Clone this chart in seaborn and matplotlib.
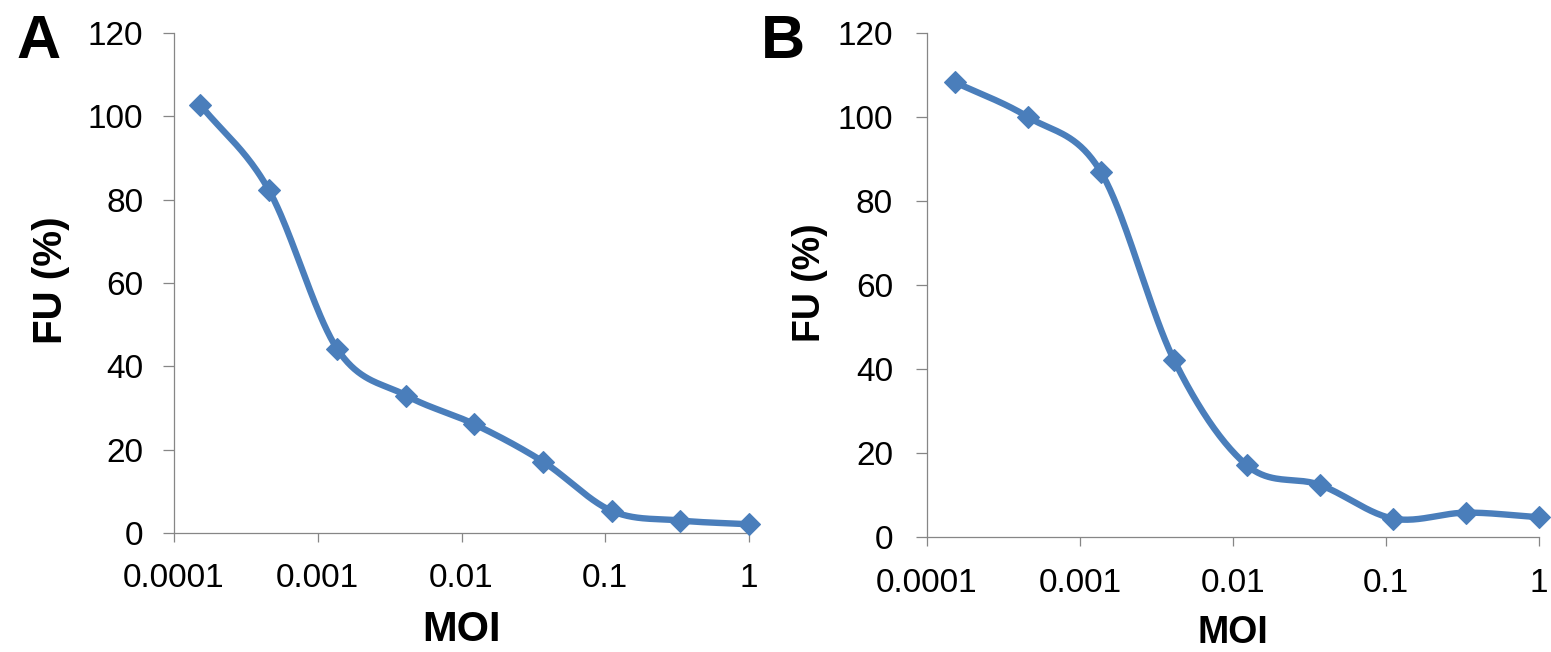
import numpy as np
import pandas as pd
import matplotlib
matplotlib.use("Agg")
import matplotlib.pyplot as plt
import seaborn as sns

# Three-fold dilution series of MOI
moi = [0.000152, 0.000457, 0.00137, 0.00412, 0.0123, 0.037, 0.111, 0.333, 1.0]
# Relative fluorescence units (%) for each panel
fu_a = [102.8, 82.3, 44.1, 33.0, 26.1, 17.1, 5.3, 3.0, 2.1]
fu_b = [108.3, 100.0, 86.9, 42.1, 17.1, 12.4, 4.4, 5.8, 4.7]

x_ticks = [0.0001, 0.001, 0.01, 0.1, 1]
x_tick_labels = ["0.0001", "0.001", "0.01", "0.1", "1"]
y_ticks = [0, 20, 40, 60, 80, 100, 120]
panel_letters = ["A", "B"]

sns.set_style("ticks")
plt.rcParams["font.family"] = ["Liberation Sans", "DejaVu Sans"]
plt.rcParams["text.color"] = "black"
plt.rcParams["axes.labelcolor"] = "black"

LINE = "#4a7ebb"
AXIS = "#868686"


def smooth_curve(xs, ys, n=40):
    """Catmull-Rom spline through the points in (log10 x, y) space."""
    u = np.log10(np.asarray(xs, float))
    v = np.asarray(ys, float)
    pu = np.concatenate([[2 * u[0] - u[1]], u, [2 * u[-1] - u[-2]]])
    pv = np.concatenate([[2 * v[0] - v[1]], v, [2 * v[-1] - v[-2]]])
    out_u, out_v = [], []
    t = np.linspace(0, 1, n, endpoint=False)
    for i in range(1, len(pu) - 2):
        for arr, out in ((pu, out_u), (pv, out_v)):
            p0, p1, p2, p3 = arr[i - 1], arr[i], arr[i + 1], arr[i + 2]
            seg = 0.5 * ((2 * p1) + (-p0 + p2) * t
                         + (2 * p0 - 5 * p1 + 4 * p2 - p3) * t ** 2
                         + (-p0 + 3 * p1 - 3 * p2 + p3) * t ** 3)
            out.extend(seg)
    out_u.append(u[-1])
    out_v.append(v[-1])
    return 10 ** np.array(out_u), np.array(out_v)


fig = plt.figure(figsize=(15.51, 6.52), dpi=100)
W, H = 1551, 652

# panel geometry in pixels: left, right, top, bottom
geo = [
    dict(l=174, r=749, t=33, b=533, ylab_x=51, ylab_y=280, xlab_top=610,
         ypad=14, xpad=15, lab_size_y=29, lab_size_x=30, letter_x=16),
    dict(l=927, r=1539, t=33, b=537, ylab_x=810, ylab_y=283, xlab_top=615,
         ypad=16.5, xpad=16, lab_size_y=27, lab_size_x=27, letter_x=761),
]

for g, fu, letter in zip(geo, [fu_a, fu_b], panel_letters):
    ax = fig.add_axes([g["l"] / W, 1 - g["b"] / H,
                       (g["r"] - g["l"]) / W, (g["b"] - g["t"]) / H])
    df = pd.DataFrame({"MOI": moi, "FU": fu})

    sx, sy = smooth_curve(df["MOI"], df["FU"])
    ax.plot(sx, sy, color=LINE, lw=4.6, solid_capstyle="round", zorder=3,
            clip_on=False)
    sns.lineplot(data=df, x="MOI", y="FU", ax=ax, marker="D", markersize=11,
                 color=LINE, linestyle="", markeredgecolor=LINE,
                 markeredgewidth=0.8, zorder=4, clip_on=False)

    ax.set_xscale("log")
    ax.set_xlim(1e-4, 1)
    ax.set_ylim(0, 120)
    ax.set_xticks(x_ticks)
    ax.set_xticklabels(x_tick_labels)
    ax.minorticks_off()
    ax.set_yticks(y_ticks)
    sns.despine(ax=ax)
    for side in ("left", "bottom"):
        ax.spines[side].set_color(AXIS)
        ax.spines[side].set_linewidth(0.9)
    ax.tick_params(axis="y", direction="out", length=8, width=0.9,
                   color=AXIS, labelsize=24, pad=g["ypad"], labelcolor="black")
    ax.tick_params(axis="x", direction="out", length=6.5, width=0.9,
                   color=AXIS, labelsize=24, pad=g["xpad"], labelcolor="black")
    ax.grid(False)

    ax.set_ylabel("FU (%)", fontsize=g["lab_size_y"], fontweight="bold",
                  va="center", ha="center", color="black")
    ax.yaxis.set_label_coords((g["ylab_x"] - g["l"]) / (g["r"] - g["l"]),
                              (g["b"] - g["ylab_y"]) / (g["b"] - g["t"]))
    ax.set_xlabel("MOI", fontsize=g["lab_size_x"], fontweight="bold",
                  va="top", ha="center", color="black")
    ax.xaxis.set_label_coords(0.5, (g["b"] - g["xlab_top"]) / (g["b"] - g["t"]))

    fig.text(g["letter_x"] / W, 1 - 58 / H, letter, fontsize=44,
             fontweight="bold", ha="left", va="baseline", color="black")

fig.savefig("out.png", dpi=100, facecolor="white")
